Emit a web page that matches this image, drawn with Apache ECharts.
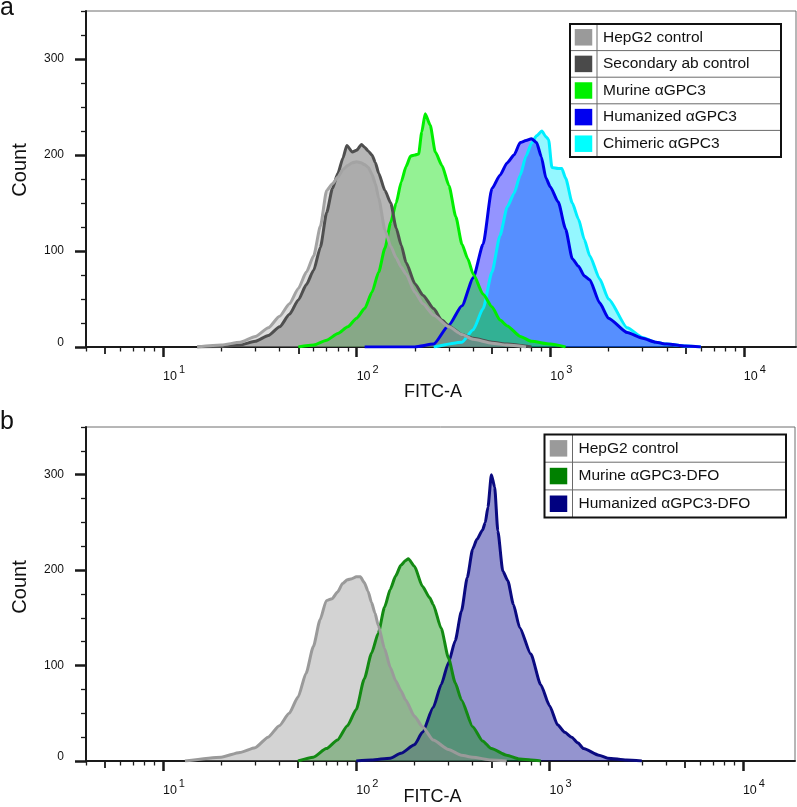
<!DOCTYPE html>
<html><head><meta charset="utf-8">
<script src="https://cdn.jsdelivr.net/npm/echarts@6/dist/echarts.min.js"></script>
<style>html,body{margin:0;padding:0;background:#fff}#c{width:797px;height:807px}</style>
</head><body><div id="c"></div>
<script>
// ---------- data: [FITC-A value, count] ----------
const aHepG2 = [[15,0],[20,2],[25,5],[30,11],[35,20],[40,32],[45,45],[50,61],[55,78],[60,95],[65,126],[70,163],[75,170],[80,177],[85,185],[90,189],[95,192],[100,193],[105,192],[110,190],[115,187],[120,180],[125,170],[130,155],[140,122],[150,105],[160,93],[170,83],[180,76],[200,57],[220,45],[250,33],[300,21],[350,13],[400,8],[500,4],[600,2],[750,0]];
const aSecondary = [[15,0],[20,0.5],[25,2],[30,6],[35,12],[40,21],[45,34],[50,49],[55,65],[60,80],[65,104],[70,140],[75,165],[80,181],[85,197],[89,210],[95,203],[100,205],[106,211],[110,208],[115,204],[120,200],[125,192],[130,181],[140,163],[150,150],[160,124],[170,106],[180,88],[200,66],[220,54],[250,40],[275,28],[300,22],[350,13],[400,9],[500,5],[600,3],[800,0]];
const aMurine = [[50,0],[60,2],[70,7],[80,14],[90,21],[100,30],[110,40],[120,57],[130,78],[140,103],[150,130],[160,150],[170,172],[180,188],[190,199],[200,200],[209,201],[217,224],[226,243],[240,231],[255,203],[276,189],[300,168],[325,136],[350,107],[375,92],[400,76],[450,55],[500,42],[550,28],[600,22],[700,11],[800,6],[1000,3],[1200,0]];
const aHumanized = [[110,0],[200,0],[250,3],[300,23],[350,43],[400,72],[450,107],[500,165],[550,179],[600,192],[650,200],[700,213],[750,215],[800,217],[850,213],[900,198],[950,176],[1000,167],[1100,151],[1200,123],[1300,92],[1400,84],[1500,74],[1600,70],[1800,46],[2000,30],[2500,15],[3000,9],[3500,5],[4000,3],[5000,1],[6000,0]];
const aChimeric = [[250,0],[350,5],[400,18],[450,40],[500,78],[550,116],[600,146],[650,160],[700,179],[750,199],[800,212],[850,220],[905,225],[950,219],[981,216],[1020,187],[1100,186],[1148,186],[1200,176],[1300,150],[1400,133],[1500,112],[1600,95],[1800,71],[2000,50],[2500,20],[3000,10],[3500,5],[4000,3],[5000,1],[6000,0]];

const bHepG2 = [[13,0],[20,4],[25,9],[30,14],[35,25],[40,37],[45,50],[50,67],[55,92],[60,120],[65,148],[70,168],[75,170],[80,177],[85,186],[90,190],[95,191],[100,193],[105,193],[110,187],[115,178],[120,166],[125,155],[130,142],[140,118],[150,98],[160,84],[170,74],[180,64],[200,47],[220,36],[250,22],[300,12],[350,6],[400,4],[500,1],[600,0]];
const bMurineDFO = [[50,0],[60,4],[70,13],[80,22],[90,37],[100,54],[110,86],[120,113],[130,134],[140,161],[150,180],[160,194],[170,205],[180,210],[186,212],[200,204],[220,183],[240,171],[250,164],[275,139],[300,108],[325,82],[350,64],[400,36],[450,21],[500,13],[600,6],[700,2],[800,1],[900,0]];
const bHumanizedDFO = [[100,0],[120,1],[150,3],[170,8],[200,17],[220,30],[250,56],[275,80],[300,103],[325,126],[350,157],[375,192],[400,222],[420,232],[450,242],[465,250],[480,266],[500,300],[520,287],[540,241],[573,199],[608,189],[650,164],[700,140],[800,112],[900,80],[1000,58],[1100,38],[1200,30],[1300,25],[1400,19],[1500,13],[1800,6],[2000,3],[2500,1],[3000,0]];

const legendA = ['HepG2 control','Secondary ab control','Murine \u03b1GPC3','Humanized \u03b1GPC3','Chimeric \u03b1GPC3'];
const legendB = ['HepG2 control','Murine \u03b1GPC3-DFO','Humanized \u03b1GPC3-DFO'];

const yTicksMajor = [0,100,200,300];
const yTicksMinor = [25,50,75,125,150,175,225,250,275,325,350];
const xDecades = [10,100,1000,10000];
const xFives = [5,50,500,5000];
const xMinor = [4,6,7,8,9,20,30,40,60,70,80,90,200,300,400,600,700,800,900,2000,3000,4000,6000,7000,8000,9000];
const xMin = 4, xMax = 18600, yMax = 350;

// ---------- styling ----------
const FONT = 'Liberation Sans, Arial, Helvetica, sans-serif';
const colA = {
  line: ['#a3a3a3','#4f4f4f','#00ee00','#0000e8','#00eeff'],
  fill: ['rgba(150,150,150,0.3)','rgba(110,110,110,0.5)','rgba(0,225,0,0.42)','rgba(0,0,255,0.42)','rgba(0,235,255,0.42)'],
  swatch: ['#9a9a9a','#4a4a4a','#00f000','#0000f0','#00ffff']
};
const colB = {
  line: ['#9a9a9a','#138a13','#0a0a80'],
  fill: ['rgba(140,140,140,0.38)','rgba(0,140,0,0.42)','rgba(0,0,140,0.42)'],
  swatch: ['#9a9a9a','#008000','#000080']
};
const L = v => Math.log10(v);
const pts = arr => arr.map(p => [L(p[0]), p[1]]);

const grids = [
  {left:86, top:11, width:710, height:336},
  {left:86, top:427, width:709, height:334}
];

function xAxes(gi, nameGap){
  const base = {gridIndex:gi, type:'value', min:L(xMin), max:L(xMax), position:'bottom', splitLine:{show:false}};
  return [
    Object.assign({}, base, {
      name:'FITC-A', nameLocation:'middle', nameGap:nameGap, nameMoveOverlap:false,
      nameTextStyle:{fontSize:18, color:'#111', fontFamily:FONT, padding:[0,16,0,0]},
      axisLine:{show:true, onZero:false, lineStyle:{color:'#1a1a1a', width:2}},
      axisTick:{show:true, customValues:xDecades.map(L), length:10, lineStyle:{color:'#1a1a1a', width:2.5}},
      axisLabel:{show:true, customValues:xDecades.map(L), align:'left', margin:17,
        formatter: v => '{b|10}{s|' + Math.round(v) + '}',
        rich:{ b:{fontSize:12.5, color:'#111', fontFamily:FONT, verticalAlign:'bottom'},
               s:{fontSize:11, color:'#111', fontFamily:FONT, verticalAlign:'bottom', padding:[0,0,8,2]} } }
    }),
    Object.assign({}, base, {
      axisLine:{show:false}, axisLabel:{show:false},
      axisTick:{show:true, customValues:xFives.map(L), length:7, lineStyle:{color:'#1a1a1a', width:1.8}}
    }),
    Object.assign({}, base, {
      axisLine:{show:false}, axisLabel:{show:false},
      axisTick:{show:true, customValues:xMinor.map(L), length:4.5, lineStyle:{color:'#1a1a1a', width:1.3}}
    })
  ];
}
function yAxes(gi){
  const base = {gridIndex:gi, type:'value', min:0, max:yMax, position:'left', splitLine:{show:false}};
  return [
    Object.assign({}, base, {
      axisLine:{show:true, onZero:false, lineStyle:{color:'#1a1a1a', width:2}},
      axisTick:{show:true, customValues:yTicksMajor, length:11, lineStyle:{color:'#1a1a1a', width:2.5}},
      axisLabel:{show:true, customValues:yTicksMajor, margin:22, fontSize:12, color:'#111', fontFamily:FONT,
        formatter: v => v === 0 ? '{z|0}' : String(v),
        rich:{ z:{fontSize:12, color:'#111', fontFamily:FONT, padding:[0,0,8,0]} } }
    }),
    Object.assign({}, base, {
      axisLine:{show:false}, axisLabel:{show:false},
      axisTick:{show:true, customValues:yTicksMinor, length:5, lineStyle:{color:'#1a1a1a', width:1.3}}
    })
  ];
}

function mkSeries(name, data, gi, line, fill){
  return {
    name:name, type:'line', xAxisIndex:gi*3, yAxisIndex:gi*2,
    data:pts(data), showSymbol:false, symbol:'none', smooth:0.2, smoothMonotone:'x',
    lineStyle:{color:line, width:3, join:'round'},
    areaStyle:{color:fill, opacity:1, origin:'start'},
    silent:true, animation:false
  };
}

// drawing order (bottom -> top) is reverse of legend order
const seriesA = [aHepG2, aSecondary, aMurine, aHumanized, aChimeric];
const seriesB = [bHepG2, bMurineDFO, bHumanizedDFO];
const series = [];
for (let i = seriesA.length-1; i >= 0; i--) series.push(mkSeries(legendA[i], seriesA[i], 0, colA.line[i], colA.fill[i]));
for (let i = seriesB.length-1; i >= 0; i--) series.push(mkSeries(legendB[i], seriesB[i], 1, colB.line[i], colB.fill[i]));

function legendTable(x0, y0, w, rowH, colW, labels, swatches, swW, swH, fs){
  const els = [];
  const h = rowH*labels.length;
  els.push({type:'rect', shape:{x:x0, y:y0, width:w, height:h}, style:{fill:'#fff', stroke:'none'}});
  for (let i = 1; i < labels.length; i++) {
    els.push({type:'line', shape:{x1:x0, y1:y0+i*rowH, x2:x0+w, y2:y0+i*rowH}, style:{stroke:'#6a6a6a', lineWidth:1}});
  }
  els.push({type:'line', shape:{x1:x0+colW, y1:y0, x2:x0+colW, y2:y0+h}, style:{stroke:'#6a6a6a', lineWidth:1}});
  els.push({type:'rect', shape:{x:x0, y:y0, width:w, height:h}, style:{fill:'none', stroke:'#111', lineWidth:2}});
  labels.forEach((t, i) => {
    const cy = y0 + i*rowH + rowH/2;
    els.push({type:'rect', shape:{x:x0+(colW-swW)/2, y:cy-swH/2, width:swW, height:swH}, style:{fill:swatches[i]}});
    els.push({type:'text', x:x0+colW+6, y:cy, style:{text:t, fontSize:fs, fontFamily:FONT, fill:'#111', verticalAlign:'middle', align:'left'}});
  });
  return els;
}

function txt(t, x, y, fs, rot){
  return {type:'text', x:x, y:y, rotation:rot||0, style:{text:t, fontSize:fs, fontFamily:FONT, fill:'#111', verticalAlign:'middle', align: rot ? 'center' : 'left'}};
}

const graphic = [].concat(
  legendTable(570, 24, 211, 26.6, 27, legendA, colA.swatch, 17.5, 16.5, 15.5),
  legendTable(544.5, 434.5, 241.5, 27.7, 28, legendB, colB.swatch, 17.5, 16.5, 15.5),
  [
    txt('a', 0, 8, 25), txt('b', 0, 422, 25),
    txt('Count', 20, 170, 20, Math.PI/2), txt('Count', 20, 587, 20, Math.PI/2)
  ]
);

const chart = echarts.init(document.getElementById('c'), null, {renderer:'canvas'});
chart.setOption({
  animation:false,
  backgroundColor:'#fff',
  grid: grids.map(g => Object.assign({show:true, borderColor:'#6e6e6e', borderWidth:1, backgroundColor:'transparent', containLabel:false, outerBoundsMode:'none'}, g)),
  xAxis: xAxes(0, 36).concat(xAxes(1, 27)),
  yAxis: yAxes(0).concat(yAxes(1)),
  series: series,
  graphic: graphic
});
</script></body></html>
